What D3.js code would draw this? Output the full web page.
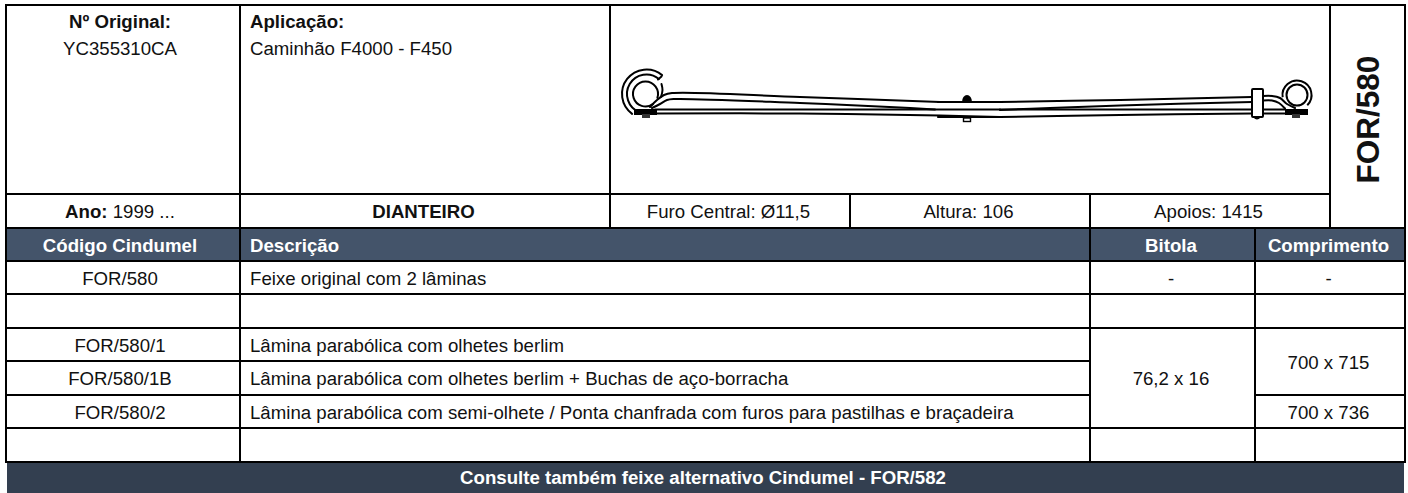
<!DOCTYPE html>
<html>
<head>
<meta charset="utf-8">
<script src="https://cdn.jsdelivr.net/npm/d3@7"></script>
<style>
  html, body { margin: 0; padding: 0; background: #fff; overflow: hidden; }
  svg { display: block; }
  text { font-family: "Liberation Sans", Arial, sans-serif; }
</style>
</head>
<body>
<div id="sheet"></div>
<script>
// table content
const infoTexts = ["Ano:", "1999 ...", "DIANTEIRO", "Furo Central: Ø11,5", "Altura: 106", "Apoios: 1415"];
const headers = ["Código Cindumel", "Descrição", "Bitola", "Comprimento"];
const codes = ["FOR/580", "", "FOR/580/1", "FOR/580/1B", "FOR/580/2", ""];
const descriptions = [
    "Feixe original com 2 lâminas",
    "",
    "Lâmina parabólica com olhetes berlim",
    "Lâmina parabólica com olhetes berlim + Buchas de aço-borracha",
    "Lâmina parabólica com semi-olhete / Ponta chanfrada com furos para pastilhas e braçadeira",
    ""
];
const footerText = "Consulte também feixe alternativo Cindumel - FOR/582";

const width = 1408, height = 493;
const fontSize = 18.65;
const headFill = "#44546a", footFill = "#333f50";

// column and row edges of the sheet
const xLeft = 6, xCode = 240, xImg = 610, xFuro = 850, xAlt = 1090, xBit = 1255, xSide = 1330, xRight = 1405;
const yTop = 5;
const rowEdges = [194, 228, 261, 294, 328, 361, 395, 428, 462];

const svg = d3.select("#sheet").append("svg")
    .attr("width", width).attr("height", height)
    .attr("viewBox", [0, 0, width, height]);

const rowY = i => rowEdges[i];

const cells = [
    {x0: xLeft, x1: xCode, y0: yTop, y1: rowY(0)},
    {x0: xCode, x1: xImg, y0: yTop, y1: rowY(0)},
    {x0: xImg, x1: xSide, y0: yTop, y1: rowY(0)},
    {x0: xSide, x1: xRight, y0: yTop, y1: rowY(1)},
    {x0: xLeft, x1: xCode, r: 0},
    {x0: xCode, x1: xImg, r: 0, label: infoTexts[2], bold: true},
    {x0: xImg, x1: xFuro, r: 0, label: infoTexts[3]},
    {x0: xFuro, x1: xAlt, r: 0, label: infoTexts[4]},
    {x0: xAlt, x1: xSide, r: 0, label: infoTexts[5]},
    // header
    {x0: xLeft, x1: xCode, r: 1, label: headers[0], head: true},
    {x0: xCode, x1: xAlt, r: 1, label: headers[1], head: true, left: true},
    {x0: xAlt, x1: xBit, r: 1, label: headers[2], head: true},
    {x0: xBit, x1: xRight, r: 1, label: headers[3], head: true}
];

// body rows
codes.forEach((c, i) => {
    cells.push({x0: xLeft, x1: xCode, r: i + 2, label: c});
    cells.push({x0: xCode, x1: xAlt, r: i + 2, label: descriptions[i], left: true});
});
cells.push({x0: xAlt, x1: xBit, r: 2, label: "-"});
cells.push({x0: xBit, x1: xRight, r: 2, label: "-"});
cells.push({x0: xAlt, x1: xBit, r: 3});
cells.push({x0: xBit, x1: xRight, r: 3});
cells.push({x0: xAlt, x1: xBit, r: 4, span: 3, label: "76,2 x 16"});
cells.push({x0: xBit, x1: xRight, r: 4, span: 2, label: "700 x 715"});
cells.push({x0: xBit, x1: xRight, r: 6, label: "700 x 736"});
cells.push({x0: xAlt, x1: xBit, r: 7});
cells.push({x0: xBit, x1: xRight, r: 7});

cells.forEach(d => {
    if (d.r !== undefined) {
        d.y0 = rowY(d.r);
        d.y1 = rowY(d.r + (d.span || 1));
    }
});

// text sits a little left of the true cell centre
const centerX = d => (d.x0 + d.x1) / 2 - (d.x0 === xLeft ? 3 : 1.5);

svg.append("g").selectAll("rect")
    .data(cells)
    .join("rect")
    .attr("x", d => d.x0)
    .attr("y", d => d.y0)
    .attr("width", d => d.x1 - d.x0)
    .attr("height", d => d.y1 - d.y0)
    .attr("fill", d => d.head ? headFill : "#fff")
    .attr("stroke", "#000")
    .attr("stroke-width", 2);

svg.append("g").selectAll("text")
    .data(cells.filter(d => d.label))
    .join("text")
    .attr("x", d => d.left ? d.x0 + 10 : centerX(d))
    .attr("y", d => (d.y0 + d.y1) / 2 + 7)
    .attr("text-anchor", d => d.left ? "start" : "middle")
    .attr("font-size", fontSize)
    .attr("font-weight", d => (d.head || d.bold) ? "bold" : "normal")
    .attr("fill", d => d.head ? "#fff" : "#111")
    .text(d => d.label);

// footer band
svg.append("rect")
    .attr("x", xLeft + 1).attr("y", rowY(8) + 1)
    .attr("width", xRight - xLeft - 2).attr("height", height - rowY(8) - 1)
    .attr("fill", footFill);
svg.append("text")
    .attr("x", 703).attr("y", 484)
    .attr("text-anchor", "middle")
    .attr("font-size", fontSize).attr("font-weight", "bold").attr("fill", "#fff")
    .text(footerText);

// mixed weight labels
const colOneX = (xLeft + xCode) / 2 - 3;
const ano = svg.append("text")
    .attr("x", colOneX).attr("y", (rowY(0) + rowY(1)) / 2 + 7)
    .attr("text-anchor", "middle").attr("font-size", fontSize).attr("fill", "#111");
ano.append("tspan").attr("font-weight", "bold").text(infoTexts[0]);
ano.append("tspan").text(" " + infoTexts[1]);

const topText = svg.append("g").attr("font-size", fontSize).attr("fill", "#111");
topText.append("text").attr("x", colOneX).attr("y", 28)
    .attr("text-anchor", "middle").attr("font-weight", "bold").text("Nº Original:");
topText.append("text").attr("x", colOneX).attr("y", 55)
    .attr("text-anchor", "middle").text("YC355310CA");
topText.append("text").attr("x", xCode + 10).attr("y", 28)
    .attr("font-weight", "bold").text("Aplicação:");
topText.append("text").attr("x", xCode + 10).attr("y", 55)
    .text("Caminhão F4000 - F450");

svg.append("text")
    .attr("transform", `translate(${(xSide + xRight) / 2 + 11.5},119.5) rotate(-90)`)
    .attr("text-anchor", "middle")
    .attr("font-size", 31.5).attr("font-weight", "bold").attr("fill", "#111")
    .text("FOR/580");

// leaf spring drawing
const spring = svg.append("g").attr("fill", "none").attr("stroke", "#000").attr("stroke-linecap", "round");
const line = d3.line().curve(d3.curveCatmullRom.alpha(0.5));

const leafLines = [
    // upper leaf, left side
    {w: 2, pts: [[650, 107], [657, 100], [664, 95], [672, 93], [800, 97], [940, 102]]},
    {w: 2, pts: [[652, 108], [660, 104], [667, 100], [674, 99], [800, 103], [900, 107.5], [935, 109.5]]},
    // lower leaf, left side
    {w: 2, pts: [[655, 109.5], [1000, 109.5]]},
    {w: 2, pts: [[655, 113.5], [800, 113.5], [940, 115.5], [1000, 117]]},
    // centre
    {w: 2.2, pts: [[938, 102], [1000, 102]]},
    {w: 2.2, pts: [[938, 117], [1000, 117]]},
    // right side
    {w: 2, pts: [[1000, 102], [1120, 100], [1252, 97]]},
    {w: 2, pts: [[1000, 110], [1050, 108], [1120, 105.5], [1252, 102]]},
    {w: 2, pts: [[1000, 109.5], [1285, 109.5]]},
    {w: 2, pts: [[1000, 117], [1120, 115], [1252, 113.5]]},
    {w: 2, pts: [[1263, 113.5], [1285, 113.5]]},
    {w: 2, pts: [[1263, 96], [1272, 96], [1280, 98], [1287, 104], [1295, 108]]},
    {w: 2, pts: [[1263, 100.5], [1272, 100.5], [1279, 103], [1285, 108.5]]},
    // hook beside the left eye
    {w: 2, pts: [[661.5, 84], [662.5, 90], [661, 97]]}
];
spring.selectAll("path.leaf")
    .data(leafLines)
    .join("path")
    .attr("class", "leaf")
    .attr("stroke-width", d => d.w)
    .attr("d", d => line(d.pts));

// left eye, wound spiral
const eye = d3.path();
eye.arc(645.5, 94, 12.5, Math.PI * 0.3, Math.PI * 2.1);
spring.append("path").attr("stroke-width", 2).attr("d", eye.toString());

const arcs = [
    {r: 19.5, a0: Math.PI * 1.72, a1: Math.PI * 0.62},
    {r: 24.5, a0: Math.PI * 1.72, a1: Math.PI * 0.7}
];
spring.selectAll("path.wind")
    .data(arcs)
    .join("path")
    .attr("class", "wind")
    .attr("stroke-width", 2)
    .attr("d", d => {
        const p = d3.path();
        p.arc(646.5, 94, d.r, d.a0, d.a1, true);
        return p.toString();
    });
spring.append("path").attr("stroke-width", 2)
    .attr("d", line([[658, 79.5], [661.5, 76.5]]));

// pads and bolts
spring.append("rect").attr("x", 634).attr("y", 109).attr("width", 23).attr("height", 6)
    .attr("fill", "#000").attr("stroke", "none");
spring.append("rect").attr("x", 642).attr("y", 114).attr("width", 8).attr("height", 4)
    .attr("fill", "#333").attr("stroke", "none");
spring.append("rect").attr("x", 1285).attr("y", 109).attr("width", 23).attr("height", 6)
    .attr("fill", "#000").attr("stroke", "none");
spring.append("rect").attr("x", 1292).attr("y", 114).attr("width", 8).attr("height", 4)
    .attr("fill", "#333").attr("stroke", "none");

// right eye
spring.append("circle").attr("cx", 1297).attr("cy", 95).attr("r", 10.5).attr("stroke-width", 2).attr("fill", "#fff");
spring.append("path").attr("stroke-width", 2)
    .attr("d", d3.arc()({innerRadius: 14.5, outerRadius: 14.5, startAngle: -Math.PI * 0.55, endAngle: Math.PI * 0.75}))
    .attr("transform", "translate(1297,95)");

// clamp
spring.append("rect").attr("x", 1252).attr("y", 89).attr("width", 11).attr("height", 28).attr("rx", 1)
    .attr("fill", "#fff").attr("stroke-width", 2);
spring.append("path").attr("stroke-width", 1.6).attr("d", "M1254,117 Q1257,120.5 1260,117");

// centre bolt
spring.append("path").attr("fill", "#000").attr("stroke", "none")
    .attr("d", "M962,102 A5,7 0 0 1 972,102 Z");
spring.append("rect").attr("x", 963.5).attr("y", 118).attr("width", 7).attr("height", 3.5)
    .attr("fill", "#fff").attr("stroke-width", 1.4);
</script>
</body>
</html>
